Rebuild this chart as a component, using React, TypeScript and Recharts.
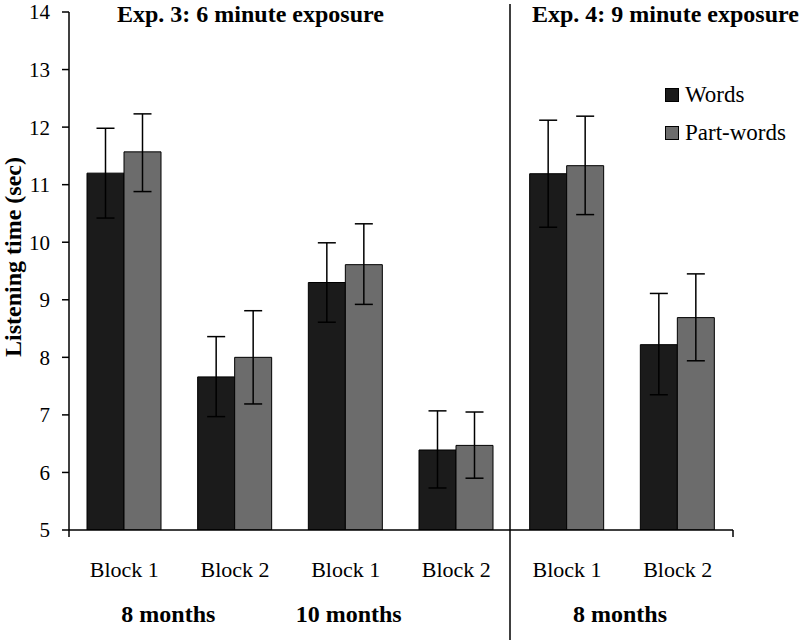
import React from "react";
import { BarChart, Bar, XAxis, YAxis, ErrorBar, Legend } from "recharts";

const blocks = ["Block 1", "Block 2", "Block 1", "Block 2", "Block 1", "Block 2"];
const words = [11.2, 7.66, 9.3, 6.39, 11.19, 8.22];
const wordsLow = [10.42, 6.97, 8.61, 5.73, 10.26, 7.35];
const wordsHigh = [11.98, 8.36, 9.99, 7.07, 12.12, 9.11];
const partWords = [11.57, 8.0, 9.61, 6.47, 11.33, 8.69];
const partLow = [10.88, 7.19, 8.92, 5.9, 10.48, 7.94];
const partHigh = [12.23, 8.81, 10.32, 7.05, 12.19, 9.45];
const yTicks = [5, 6, 7, 8, 9, 10, 11, 12, 13, 14];

// age group label under the first block of each pair (dx = offset from that block's centre)
const ageLabels: Record<number, { text: string; dx: number }> = {
  0: { text: "8 months", dx: 44 },
  2: { text: "10 months", dx: 3 },
  4: { text: "8 months", dx: 53 },
};

const series = [
  { key: "words", name: "Words", color: "#1b1b1b" },
  { key: "partWords", name: "Part-words", color: "#6c6c6c" },
];

const data = blocks.map((b, i) => ({
  block: b,
  words: words[i],
  wordsErr: [words[i] - wordsLow[i], wordsHigh[i] - words[i]],
  partWords: partWords[i],
  partErr: [partWords[i] - partLow[i], partHigh[i] - partWords[i]],
}));

const FONT = "Liberation Serif, DejaVu Serif, Noto Serif, serif";

const XTick = (props: any) => {
  const { x, y, payload } = props;
  const idx = payload.index ?? props.index;
  const age = ageLabels[idx];
  return (
    <g>
      <text x={x} y={y + 47} textAnchor="middle" fontFamily={FONT} fontSize={22} fill="#000">
        {payload.value}
      </text>
      {age && (
        <text
          x={x + age.dx}
          y={y + 92}
          textAnchor="middle"
          fontFamily={FONT}
          fontSize={24}
          fontWeight="bold"
          fill="#000"
        >
          {age.text}
        </text>
      )}
    </g>
  );
};

const YLabel = (props: any) => {
  const { viewBox } = props;
  const cx = viewBox.x + 13;
  const cy = viewBox.y + viewBox.height / 2 - 14;
  return (
    <text
      x={cx}
      y={cy}
      transform={`rotate(-90, ${cx}, ${cy})`}
      textAnchor="middle"
      dominantBaseline="central"
      fontFamily={FONT}
      fontSize={24}
      fontWeight="bold"
      fill="#000"
    >
      Listening time (sec)
    </text>
  );
};

const LegendBox = () => (
  <div style={{ fontFamily: FONT, fontSize: 23, color: "#000" }}>
    {series.map((s) => (
      <div key={s.key} style={{ display: "flex", alignItems: "center", height: 38 }}>
        <span
          style={{
            width: 12,
            height: 12,
            background: s.color,
            border: "1px solid #000",
            marginRight: 6,
            display: "inline-block",
          }}
        />
        <span>{s.name}</span>
      </div>
    ))}
  </div>
);

export default function App() {
  return (
    <div style={{ position: "absolute", left: 0, top: 0, width: 800, height: 640, background: "#fff" }}>
      <BarChart
        width={800}
        height={640}
        data={data}
        margin={{ top: 12, right: 67, bottom: 30, left: 0 }}
        barGap={0}
        barSize={37}
      >
        <XAxis
          dataKey="block"
          height={80}
          tickLine={false}
          tickSize={0}
          tickMargin={0}
          interval={0}
          axisLine={{ stroke: "#000", strokeWidth: 1.5 }}
          tick={<XTick />}
        />
        <YAxis
          width={69}
          domain={[5, 14]}
          ticks={yTicks}
          interval={0}
          allowDataOverflow
          tickSize={7}
          tickMargin={12}
          axisLine={{ stroke: "#000", strokeWidth: 1.5 }}
          tickLine={{ stroke: "#000", strokeWidth: 1.5 }}
          tick={{ fontFamily: FONT, fontSize: 21, fill: "#000" }}
          label={<YLabel />}
        />
        <Legend
          layout="horizontal"
          verticalAlign="middle"
          align="center"
          content={<LegendBox />}
          wrapperStyle={{ position: "absolute", left: 665, top: 76, width: 140 }}
        />
        <Bar dataKey="words" name="Words" fill={series[0].color} stroke="#000" strokeWidth={1} isAnimationActive={false}>
          <ErrorBar dataKey="wordsErr" width={9} stroke="#000" strokeWidth={1.5} />
        </Bar>
        <Bar dataKey="partWords" name="Part-words" fill={series[1].color} stroke="#000" strokeWidth={1} isAnimationActive={false}>
          <ErrorBar dataKey="partErr" width={9} stroke="#000" strokeWidth={1.5} />
        </Bar>
      </BarChart>
      <svg
        width={800}
        height={640}
        style={{ position: "absolute", left: 0, top: 0, pointerEvents: "none" }}
      >
        <line x1={510} y1={4} x2={510} y2={640} stroke="#000" strokeWidth={1.5} />
        <line x1={69} y1={530} x2={69} y2={537} stroke="#000" strokeWidth={1.5} />
        <line x1={733} y1={530} x2={733} y2={537} stroke="#000" strokeWidth={1.5} />
        <text x={117} y={22} fontFamily={FONT} fontSize={24} fontWeight="bold" fill="#000">
          Exp. 3: 6 minute exposure
        </text>
        <text x={532} y={22} fontFamily={FONT} fontSize={24} fontWeight="bold" fill="#000">
          Exp. 4: 9 minute exposure
        </text>
      </svg>
    </div>
  );
}
